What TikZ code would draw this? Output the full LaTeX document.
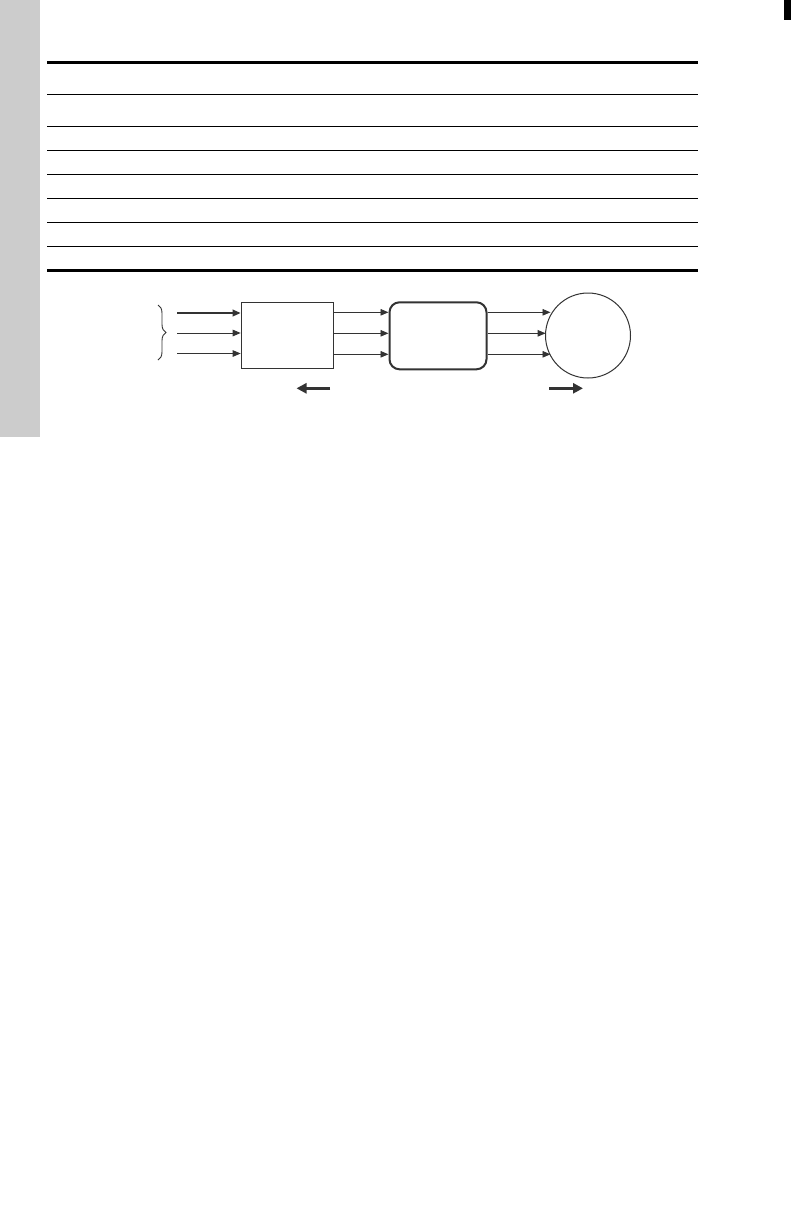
\documentclass[tikz,border=0pt]{standalone}
\usetikzlibrary{arrows.meta,decorations.pathreplacing}
\definecolor{sidegray}{HTML}{CCCCCC}
\definecolor{ink}{HTML}{333333}
\begin{document}
\begin{tikzpicture}[x=1pt,y=-1pt,
  thinrule/.style={line width=1.1pt,black},
  thickrule/.style={line width=2.4pt,black},
  flow/.style={draw=ink,line width=0.9pt,-{Triangle[length=8pt,width=6.5pt]}},
  bigflow/.style={draw=ink,line width=2.6pt,-{Triangle[length=9pt,width=9pt]}},
  blockbox/.style={draw=ink,line width=1.6pt,minimum width=92pt,minimum height=66pt,inner sep=0pt,fill=white},
  roundbox/.style={draw=ink,line width=2pt,rounded corners=10pt,minimum width=97pt,minimum height=67pt,inner sep=0pt,fill=white},
  circbox/.style={draw=ink,line width=1pt,circle,minimum size=85pt,inner sep=0pt,fill=white}]
\useasboundingbox (0,0) rectangle (792,1224);
\fill[white] (0,0) rectangle (792,1224);
% side tab
\fill[sidegray] (0,0) rectangle (40,437);
\fill[black] (784,0) rectangle (791,20);
% table rules
\draw[thickrule] (47,62.5) -- (698,62.5);
\foreach \yy in {94.3,126.3,150.3,174.3,198.3,222.3,246.3}
  \draw[thinrule] (47,\yy) -- (698,\yy);
\draw[thickrule] (47,270.5) -- (698,270.5);
% diagram nodes
\node[blockbox] (blk) at (287.5,335.5) {};
\node[roundbox] (rnd) at (438,335.8) {};
\node[circbox] (crc) at (588,335.5) {};
% brace
\draw[ink,line width=0.9pt,decorate,decoration={brace,amplitude=8pt}] (158,305) -- (158,360);
% inputs
\coordinate (in1) at (177,313);
\coordinate (in2) at (177,333);
\coordinate (in3) at (177,353.5);
\draw[flow,line width=1.8pt] (in1) -- (in1 -| blk.west);
\draw[flow] (in2) -- (in2 -| blk.west);
\draw[flow] (in3) -- (in3 -| blk.west);
% block to rounded
\foreach \yy in {312.3,333.3,354.3}
  \draw[flow] (blk.east |- 0,\yy) -- (rnd.west |- 0,\yy);
% rounded to circle
\coordinate (c1) at (550.5,312.3);
\coordinate (c2) at (545.6,333.3);
\coordinate (c3) at (550.5,354.3);
\draw[flow] (rnd.east |- c1) -- (c1);
\draw[flow] (rnd.east |- c2) -- (c2);
\draw[flow] (rnd.east |- c3) -- (c3);
% direction arrows
\coordinate (la) at (330,388.3);
\coordinate (lb) at (296.5,388.3);
\draw[bigflow,-{Triangle[length=10pt,width=10pt]}] (la) -- (lb);
\coordinate (ra) at (549,388.3);
\coordinate (rb) at (583,388.3);
\draw[bigflow,-{Triangle[length=10pt,width=10pt]}] (ra) -- (rb);
\end{tikzpicture}
\end{document}
